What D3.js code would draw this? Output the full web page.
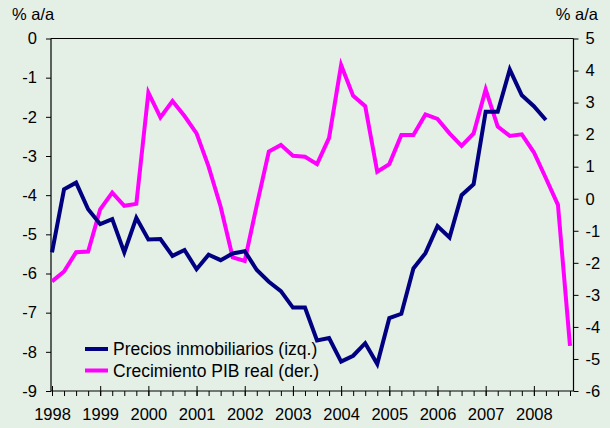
<!DOCTYPE html>
<html>
<head>
<meta charset="utf-8">
<script src="https://cdn.jsdelivr.net/npm/d3@7"></script>
<style>
html,body{margin:0;padding:0;background:#e4efe6;}
svg{display:block;}
text{font-family:"Liberation Sans",Arial,sans-serif;fill:#000;}
</style>
</head>
<body>
<svg id="chart" width="610" height="428"></svg>
<script>
// Quarterly data, 1998Q1 .. 2008Q4
const years = ["1998","1999","2000","2001","2002","2003","2004","2005","2006","2007","2008"];
const leftTicks = [0,-1,-2,-3,-4,-5,-6,-7,-8,-9];
const rightTicks = [5,4,3,2,1,0,-1,-2,-3,-4,-5,-6];
const preciosInmobiliarios = [
  -5.46,-3.85,-3.68,-4.36,-4.74,-4.61,-5.46,-4.58,
  -5.13,-5.12,-5.55,-5.40,-5.89,-5.52,-5.66,-5.49,
  -5.43,-5.91,-6.21,-6.45,-6.87,-6.87,-7.71,-7.65,
  -8.25,-8.10,-7.78,-8.31,-7.14,-7.03,-5.87,-5.48,
  -4.79,-5.08,-4.00,-3.72,-1.87,-1.87,-0.79,-1.45,
  -1.73,-2.08
];
const crecimientoPIB = [
  -2.58,-2.27,-1.67,-1.65,-0.33,0.19,-0.22,-0.16,
  3.31,2.54,3.05,2.58,2.04,1.00,-0.25,-1.83,
  -1.94,-0.20,1.47,1.68,1.34,1.31,1.08,1.90,
  4.17,3.21,2.89,0.84,1.08,1.99,1.99,2.63,
  2.49,2.04,1.65,2.04,3.41,2.25,1.96,2.01,
  1.45,0.64,-0.19,-4.59
];
const legendLabels = ["Precios inmobiliarios (izq.)","Crecimiento PIB real (der.)"];
const colors = ["#000080","#ff00ff"];

const svg = d3.select("#chart");
const L = 51, R = 573.5, T = 38.5, B = 391;

const x = d3.scaleLinear().domain([0,43]).range([52,570]);
const yL = d3.scaleLinear().domain([-9,0]).range([B,T]);
const yR = d3.scaleLinear().domain([-6,5]).range([B,T]);
const fmt = d => String(d);

svg.append("rect").attr("width",610).attr("height",428).attr("fill","#e4efe6");

// top border
svg.append("line").attr("x1",L).attr("x2",R).attr("y1",T).attr("y2",T)
  .attr("stroke","#000").attr("stroke-width",1.2);

// left axis
const gL = svg.append("g").attr("transform",`translate(${L},0)`)
  .call(d3.axisLeft(yL).tickValues(leftTicks).tickSize(5).tickPadding(9).tickFormat(fmt));
// right axis
const gR = svg.append("g").attr("transform",`translate(${R},0)`)
  .call(d3.axisRight(yR).tickValues(rightTicks).tickSize(5).tickPadding(7).tickFormat(fmt));
// bottom axis: minor (quarter) ticks
const gB = svg.append("g").attr("transform",`translate(0,${B})`)
  .call(d3.axisBottom(x).tickValues(d3.range(0,44)).tickSize(5).tickFormat(""));
// major (year) ticks crossing axis
const gB2 = svg.append("g").attr("transform",`translate(0,${B})`)
  .call(d3.axisBottom(x).tickValues(d3.range(0,44,4)).tickSize(5).tickPadding(12)
    .tickFormat((d,i)=>years[i]));
gB2.selectAll(".tick line").attr("y1",-5).attr("y2",5);
gB.select(".domain").attr("d",`M${L},0H${R}`);
gB2.select(".domain").remove();

[gL,gR,gB,gB2].forEach(g=>{
  g.selectAll(".domain").attr("stroke","#000").attr("stroke-width",1.2);
  g.selectAll(".tick line").attr("stroke","#000").attr("stroke-width",1);
  g.selectAll("text").attr("font-size",16.5).attr("font-family","Liberation Sans, Arial, sans-serif").attr("fill","#000");
});
gL.select(".domain").attr("d",`M0,${T}V${B}`);
gR.select(".domain").attr("d",`M0,${T}V${B}`);

// axis unit labels
svg.append("text").attr("x",12).attr("y",20).attr("font-size",16.5).text("% a/a");
svg.append("text").attr("x",598).attr("y",20).attr("font-size",16.5).attr("text-anchor","end").text("% a/a");

// lines
const lineL = d3.line().x((d,i)=>x(i)).y(d=>yL(d));
const lineR = d3.line().x((d,i)=>x(i)).y(d=>yR(d));
svg.append("path").datum(crecimientoPIB).attr("d",lineR)
  .attr("fill","none").attr("stroke",colors[1]).attr("stroke-width",4).attr("stroke-linejoin","miter");
svg.append("path").datum(preciosInmobiliarios).attr("d",lineL)
  .attr("fill","none").attr("stroke",colors[0]).attr("stroke-width",4).attr("stroke-linejoin","miter");

// legend
const lg = svg.append("g");
legendLabels.forEach((t,i)=>{
  const yy = 349 + i*21.5;
  lg.append("line").attr("x1",85).attr("x2",108).attr("y1",yy).attr("y2",yy)
    .attr("stroke",colors[i]).attr("stroke-width",4);
  lg.append("text").attr("x",113).attr("y",yy+6).attr("font-size",17.5).text(t);
});
</script>
</body>
</html>
